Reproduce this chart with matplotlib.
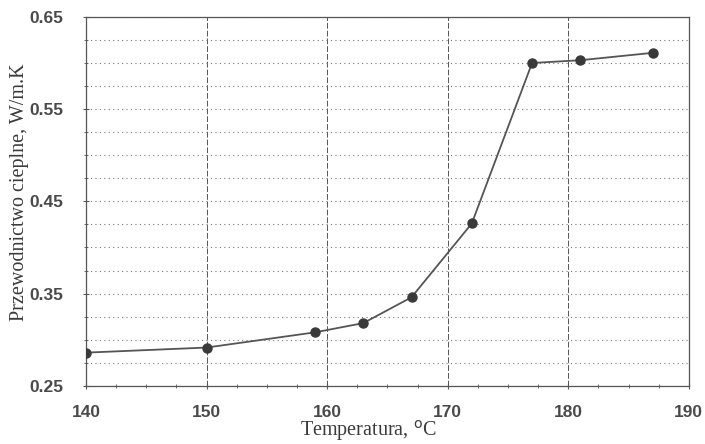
import numpy as np
import matplotlib.pyplot as plt
from matplotlib.ticker import MultipleLocator

# data
temperatura = [140, 150, 159, 163, 167, 172, 177, 181, 187]
przewodnictwo = [0.286, 0.2915, 0.308, 0.318, 0.346, 0.426, 0.600, 0.603, 0.611]

x_ticks = [140, 150, 160, 170, 180, 190]
y_ticks = [0.25, 0.35, 0.45, 0.55, 0.65]

ink = '#3a3a3a'

fig = plt.figure(figsize=(7.05, 4.44), dpi=100)
ax = fig.add_axes([0.122, 0.131, 0.855, 0.831])

ax.set_xlim(140, 190)
ax.set_ylim(0.25, 0.65)
ax.set_xticks(x_ticks)
ax.set_yticks(y_ticks)
ax.xaxis.set_minor_locator(MultipleLocator(2.5))
ax.yaxis.set_minor_locator(MultipleLocator(0.025))

# grid: dashed verticals, dotted horizontals every 0.025
ax.grid(axis='x', which='major', color='#555555', linestyle=(0, (6, 2)), linewidth=0.7)
ax.grid(axis='y', which='both', color='#777777', linestyle=(0, (1, 3)), linewidth=0.8)

ax.plot(temperatura, przewodnictwo, color='#555555', linewidth=1.3,
        marker='o', markersize=6.5, markerfacecolor=ink, markeredgecolor=ink, zorder=3)

for s in ax.spines.values():
    s.set_color('#555555')
    s.set_linewidth(0.9)

ax.tick_params(which='both', direction='inout', colors='#555555', labelcolor='#4a4a4a')
ax.tick_params(which='major', length=5)
ax.tick_params(axis='x', which='major', pad=11)
ax.tick_params(axis='y', which='major', pad=14)
ax.tick_params(which='minor', length=3)
ax.set_yticklabels(['0.25', '0.35', '0.45', '0.55', '0.65'])
for lab in ax.get_xticklabels() + ax.get_yticklabels():
    lab.set_fontfamily('Liberation Sans')
    lab.set_fontweight('bold')
    lab.set_fontsize(12.5)

ax.set_xlabel('Temperatura, $^{\\rm o}$C', fontfamily='Liberation Serif', fontsize=14.5,
              color=ink, labelpad=0)
ax.xaxis.set_label_coords(0.468, -0.088)
ax.set_ylabel('Przewodnictwo cieplne, W/m.K', fontfamily='Liberation Serif', fontsize=14.5,
              color=ink)
ax.yaxis.set_label_coords(-0.095, 0.526)

fig.savefig('out.png', dpi=100)
